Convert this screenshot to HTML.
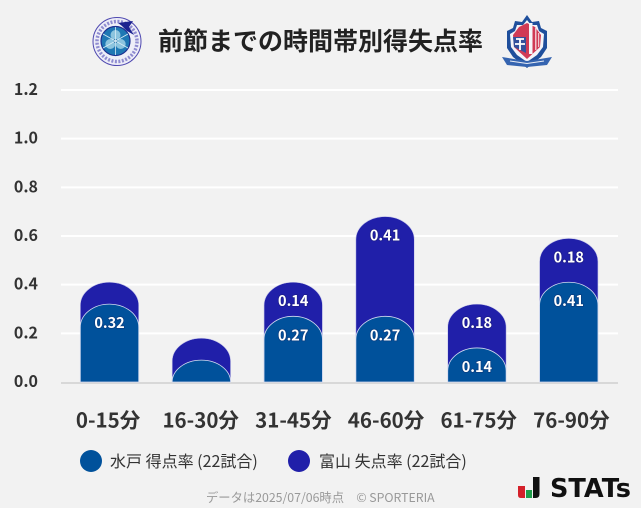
<!DOCTYPE html>
<html lang="ja">
<head>
<meta charset="utf-8">
<title>前節までの時間帯別得失点率</title>
<style>
html,body{margin:0;padding:0;background:#f2f2f2;}
body{width:641px;height:508px;overflow:hidden;font-family:"Noto Sans CJK JP","Liberation Sans",sans-serif;}
svg{display:block;}
text{font-family:"Noto Sans CJK JP","Liberation Sans",sans-serif;}
</style>
</head>
<body>
<svg id="chart" width="641" height="508" viewBox="0 0 641 508" xmlns="http://www.w3.org/2000/svg">
  <rect x="0" y="0" width="641" height="508" fill="#f2f2f2"/>

  <g>
    <circle cx="117" cy="41.500" r="24" fill="#eeeef8" stroke="#4f49b0" stroke-width="1"/>
    <circle cx="117" cy="41.500" r="20" fill="none" stroke="#8f8cd0" stroke-width="3.500" stroke-dasharray="2 1.500"/>
    <circle cx="115.500" cy="41" r="14.500" fill="#1f78b4" stroke="#1c2f90" stroke-width="1.200"/>
    <circle cx="115.500" cy="35" r="5" fill="#8cc4de"/>
    <circle cx="110.300" cy="44" r="5" fill="#8cc4de"/>
    <circle cx="120.700" cy="44" r="5" fill="#8cc4de"/>
    <circle cx="115.500" cy="41" r="2" fill="#14609c"/>
    <path d="M115.500 27 V55 M103 34 L128 48 M128 34 L103 48" stroke="#d8ecf5" stroke-width="0.800" fill="none"/>
    <path d="M118 23 L133 21 L129 27 L134 35 L127 31 L122 26 Z" fill="#1c2390"/>
  </g>

  <text x="320.500" y="50" text-anchor="middle" font-size="25" font-weight="700" fill="#222222">前節までの時間帯別得失点率</text>

  <g>
    <path d="M527 15 L532 22 L539 21 L541 28 L547 31 L547 48 L541 57 L527 68 L513 57 L507 48 L507 31 L513 28 L515 21 L522 22 Z" fill="#1f4f9c"/>
    <path d="M527 20 L531 25 L537 25 L539 31 L544 34 L543 47 L537 55 L527 62 L517 55 L511 47 L510 34 L515 31 L517 25 L523 25 Z" fill="#f4f4f8"/>
    <path d="M527 23 L535 27 L541 35 L540 47 L527 59 L514 47 L513 35 L519 27 Z" fill="#d03a55"/>
    <path d="M513 37 H526 V53 L514 47 Z" fill="#33509c"/>
    <rect x="529" y="23" width="3.500" height="31" fill="#f4f4f8"/>
    <rect x="535" y="28" width="1.500" height="22" fill="#f0c4cc"/>
    <rect x="538" y="33" width="1.200" height="14" fill="#f0c4cc"/>
    <path d="M516 39 H524 M520 39 V50 M515 44 H525" stroke="#ffffff" stroke-width="1.800" fill="none"/>
    <path d="M502 57 L514 59 L527 61 L540 59 L552 57 L547 65 L527 67 L507 65 Z" fill="#3564b0"/>
    <path d="M510 61 L527 63.500 L544 61" stroke="#e8ecf5" stroke-width="1" fill="none"/>
  </g>

  <g id="grid"></g>
  <g id="y-axis"></g>
  <g id="bars"></g>
  <g id="x-axis"></g>

  <g>
    <g>
      <circle cx="91" cy="461" r="11" fill="#00519b"/>
      <text x="110" y="467" font-size="16" fill="#333333">水戸 得点率 (22試合)</text>
    </g>
    <g>
      <circle cx="299" cy="461" r="11" fill="#201fa9"/>
      <text x="319" y="467" font-size="16" fill="#333333">富山 失点率 (22試合)</text>
    </g>
  </g>

  <text x="206" y="502" font-size="12.300" fill="#999999">データは2025/07/06時点　© SPORTERIA</text>

  <g>
    <path d="M518 486 H525 V498 H521 Q518 498 518 495 Z" fill="#d4202a"/>
    <rect x="526" y="490" width="6" height="8" fill="#1f9d4a"/>
    <path d="M533 477 H539.500 V494 Q539.500 498 535.500 498 H533 Z" fill="#111111"/>
    <text x="550" y="497" font-size="26" font-weight="700" fill="#111111" textLength="81" lengthAdjust="spacingAndGlyphs" style='font-family:"DejaVu Sans",sans-serif'>STATs</text>
  </g>
</svg>

<script>
var categories = ['0-15分', '16-30分', '31-45分', '46-60分', '61-75分', '76-90分'];
var mitoValues = [0.32, 0.09, 0.27, 0.27, 0.14, 0.41];
var toyamaValues = [0.09, 0.09, 0.14, 0.41, 0.18, 0.18];
var yTicks = [0, 0.2, 0.4, 0.6, 0.8, 1.0, 1.2];
var labelThreshold = 0.1;

var NS = 'http://www.w3.org/2000/svg';
var plotLeft = 61, plotRight = 618, plotBottom = 382, plotTop = 90, yMax = 1.2;
var bandLeft = 63.6, bandRight = 614.7;
var labelLeft = 61.7, labelRight = 617.7;
var barWidth = 58.4, arcHeight = 23;

function yScale(v) { return plotBottom - (v / yMax) * (plotBottom - plotTop); }
function xCenter(i) { return bandLeft + (bandRight - bandLeft) * (i + 0.5) / categories.length; }
function labelCenter(i) { return labelLeft + (labelRight - labelLeft) * (i + 0.5) / categories.length; }

function make(tag, attrs, parent) {
  var el = document.createElementNS(NS, tag);
  for (var k in attrs) { el.setAttribute(k, attrs[k]); }
  parent.appendChild(el);
  return el;
}

function barPath(cx, top, bottom) {
  var l = cx - barWidth / 2, r = cx + barWidth / 2;
  var ry = Math.min(arcHeight, bottom - top);
  return 'M' + l + ' ' + bottom + ' L' + l + ' ' + (top + ry) +
    ' A' + (barWidth / 2) + ' ' + ry + ' 0 0 1 ' + r + ' ' + (top + ry) +
    ' L' + r + ' ' + bottom + ' Z';
}

var gridG = document.getElementById('grid');
var yAxisG = document.getElementById('y-axis');
var barsG = document.getElementById('bars');
var xAxisG = document.getElementById('x-axis');

yTicks.forEach(function (t) {
  var y = yScale(t);
  var lineY = t === 0 ? y + 1 : y;
  var line = make('line', { x1: plotLeft, x2: plotRight, y1: lineY, y2: lineY, stroke: t === 0 ? '#d8d8d8' : '#ffffff', 'stroke-width': 2 }, gridG);
  
  
  var label = make('text', { x: 38, y: y + 5, 'text-anchor': 'end', 'font-size': 16, 'font-weight': 700, fill: '#333333' }, yAxisG);
  label.textContent = t.toFixed(1);
  
  
});

function addValueLabel(cx, top, value) {
  var text = make('text', { x: cx, y: top + 24, 'text-anchor': 'middle', 'font-size': 14.5, 'font-weight': 700, fill: '#ffffff', stroke: '#1a1a50', 'stroke-opacity': 0.35, 'stroke-width': 1.5, 'paint-order': 'stroke' }, barsG);
  text.textContent = value.toFixed(2);
  
  
}

categories.forEach(function (cat, i) {
  var cx = xCenter(i);
  var mitoTop = yScale(mitoValues[i]);
  var toyamaTop = yScale(mitoValues[i] + toyamaValues[i]);

  var toyamaBar = make('path', { d: barPath(cx, toyamaTop, plotBottom), fill: '#201fa9', stroke: '#c9c9ea', 'stroke-width': 0.6 }, barsG);
  
  

  var mitoBar = make('path', { d: barPath(cx, mitoTop, plotBottom), fill: '#00519b', stroke: '#d3daf0', 'stroke-width': 0.8 }, barsG);
  
  

  if (toyamaValues[i] >= labelThreshold) { addValueLabel(cx, toyamaTop, toyamaValues[i]); }
  if (mitoValues[i] >= labelThreshold) { addValueLabel(cx, mitoTop, mitoValues[i]); }

  var xLabel = make('text', { x: labelCenter(i), y: 427.5, 'text-anchor': 'middle', 'font-size': 20.5, 'font-weight': 700, fill: '#333333' }, xAxisG);
  xLabel.textContent = cat;
  
  
});
</script>
</body>
</html>
